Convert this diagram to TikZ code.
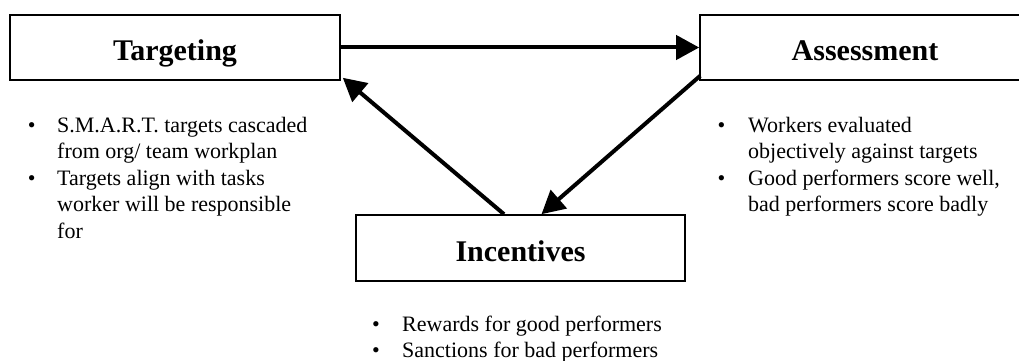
\documentclass[tikz,border=0pt]{standalone}
\usepackage{fontspec}
\setmainfont{Liberation Serif}
\usetikzlibrary{arrows.meta}
\begin{document}
\begin{tikzpicture}[x=1pt,y=-1pt,
  box/.style={draw, line width=1.6pt, minimum width=330pt, minimum height=65pt,
    inner sep=0pt, text height=26pt, text depth=0pt,
    font=\fontsize{30}{36}\selectfont\bfseries},
  body/.style={anchor=base west, inner sep=0pt, font=\fontsize{22}{26}\selectfont},
  dot/.style={anchor=base, inner sep=0pt, font=\fontsize{22}{26}\selectfont},
  flow/.style={line width=4pt, -{Triangle[length=23pt,width=24pt]}}]
\useasboundingbox (0,0) rectangle (1019,361);
\clip (0,0) rectangle (1019,361);

% the three stages
\node[box] (tg) at (175,47.5) {Targeting};
\node[box] (as) at (865,47.5) {Assessment};
\node[box, minimum width=329pt, minimum height=66pt] (in) at (520.5,248) {Incentives};

% cycle connectors
\draw[flow] (tg) -- (as);
\draw[flow] ([shift={(1,-5)}]as.south west) -- ([xshift=21pt]in.north);
\draw[flow] ([xshift=-16.5pt]in.north) -- ([shift={(2,-3)}]tg.south east);

% notes under Targeting
\node[dot] (tb1) at (31.7,132) {•};
\node[body] (tl1) at (57,132) {S.M.A.R.T. targets cascaded};
\node[body] (tl2) at (57,158.5) {from org/ team workplan};
\node[dot] (tb2) at (31.7,185) {•};
\node[body] (tl3) at (57,185) {Targets align with tasks};
\node[body] (tl4) at (57,211.5) {worker will be responsible};
\node[body] (tl5) at (57,238) {for};

% notes under Assessment
\node[dot] (ab1) at (721.5,132) {•};
\node[body] (al1) at (748,132) {Workers evaluated};
\node[body] (al2) at (748,158.5) {objectively against targets};
\node[dot] (ab2) at (721.5,185) {•};
\node[body] (al3) at (748,185) {Good performers score well,};
\node[body] (al4) at (748,211.5) {bad performers score badly};

% notes under Incentives
\node[dot] (ib1) at (376,331) {•};
\node[body] (il1) at (402,331) {Rewards for good performers};
\node[dot] (ib2) at (376,357) {•};
\node[body] (il2) at (402,357) {Sanctions for bad performers};
\end{tikzpicture}
\end{document}
